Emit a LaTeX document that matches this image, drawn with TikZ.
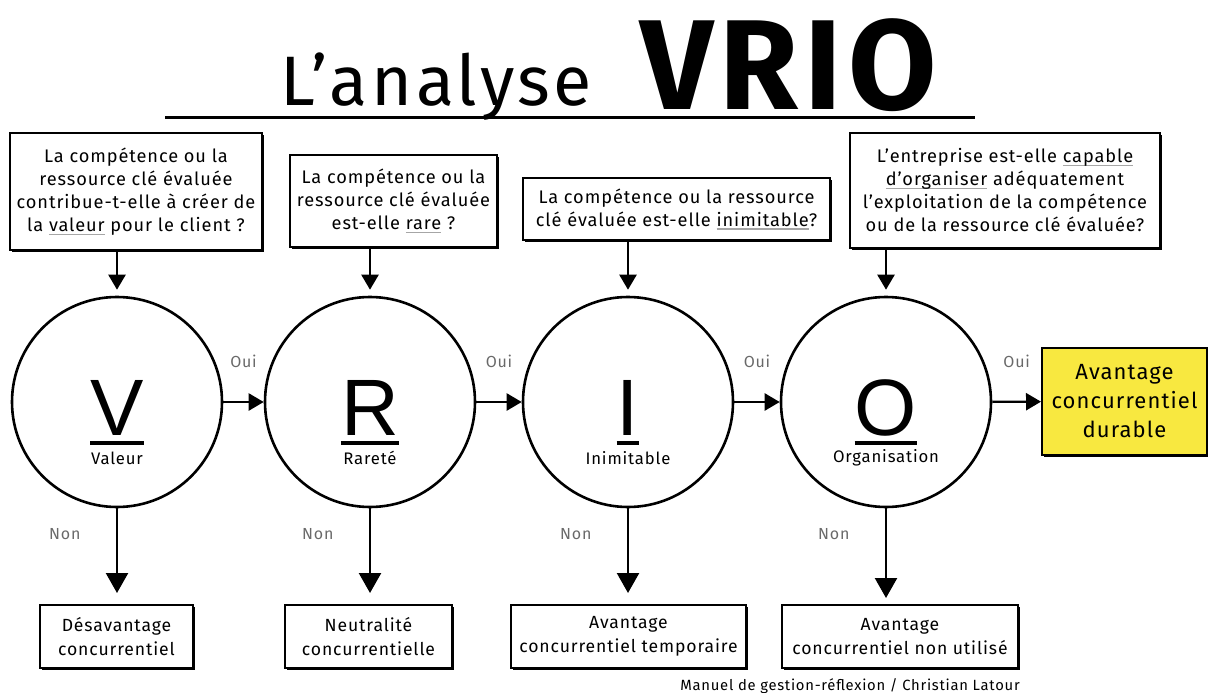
\documentclass[tikz,border=0pt]{standalone}
\usepackage{fontspec}
\setmainfont{Fira Sans}[LetterSpace=5]
\newfontfamily\lettersfont{Liberation Sans}
\usetikzlibrary{arrows.meta,shadows}

\definecolor{goalyellow}{RGB}{248,232,64}
\definecolor{labelgray}{RGB}{105,105,105}

% gray underline used for the key words of each question
\newcommand\grayul[1]{\setbox0=\hbox{#1}\rlap{\textcolor{black!35}{\rule[-3.5pt]{\wd0}{1.3pt}}}\box0{}}

\begin{document}
\begin{tikzpicture}[x=1pt,y=-1pt,
  box/.style={draw, line width=2pt, fill=white, align=center, inner sep=0pt,
    general shadow={fill=black, shadow xshift=1.6pt, shadow yshift=-1.6pt}},
  question/.style={box, font=\fontsize{18.2}{23}\selectfont},
  outcome/.style={box, font=\fontsize{17.6}{24}\selectfont, minimum height=63pt},
  goal/.style={box, fill=goalyellow, font=\fontsize{22}{29}\selectfont,
    minimum width=165pt, minimum height=107pt},
  stage/.style={draw, circle, line width=2.6pt, minimum size=210pt, inner sep=0pt},
  letter/.style={font=\lettersfont\fontsize{80}{80}\selectfont, inner sep=0pt},
  stagename/.style={font=\fontsize{16.7}{17}\selectfont, inner sep=0pt},
  bar/.style={line width=4pt},
  arr/.style={line width=2.4pt, -{Triangle[width=17pt,length=15pt]}},
  downarr/.style={line width=2.4pt, -{Triangle[width=22pt,length=20pt]}},
  oui/.style={font=\fontsize{16}{16}\selectfont, text=labelgray},
  non/.style={font=\fontsize{16}{16}\selectfont, text=labelgray}
]
\useasboundingbox (0,0) rectangle (1208,693);

% title and its rule
\draw[line width=3pt] (165,117) -- (975,117);
\node[anchor=base west, inner sep=0pt, font=\fontsize{70}{70}\selectfont] (t1) at (280,106) {L’analyse};
\node[anchor=base west, inner sep=0pt, font=\bfseries\fontsize{128}{128}\selectfont] (t2) at (640,110) {VRIO};

% questions
\node[question, minimum width=252pt, minimum height=117pt] (q1) at (136,191.5)
  {La compétence ou la\\ressource clé évaluée\\contribue-t-elle à créer de\\la \grayul{valeur} pour le client ?};
\node[question, minimum width=207pt, minimum height=92pt] (q2) at (393.5,201)
  {La compétence ou la\\ressource clé évaluée\\est-elle \grayul{rare} ?};
\node[question, minimum width=307pt, minimum height=62pt] (q3) at (676.5,209)
  {La compétence ou la ressource\\clé évaluée est-elle \grayul{inimitable}?};
\node[question, minimum width=310pt, minimum height=115pt] (q4) at (1005,190.5)
  {L’entreprise est-elle \grayul{capable}\\\grayul{d’organiser} adéquatement\\l’exploitation de la compétence\\ou de la ressource clé évaluée?};

% the four stages
\node[stage] (c1) at (117,402) {};
\node[stage] (c2) at (370,402) {};
\node[stage] (c3) at (628,402) {};
\node[stage] (c4) at (886,402) {};

\node[letter, anchor=base] (l1) at (117,435) {V};
\node[letter, anchor=base] (l2) at (370,435) {R};
\node[letter, anchor=base] (l3) at (628,435) {I};
\node[letter, anchor=base] (l4) at (886,435) {O};
\foreach \l in {l1,l2,l3,l4}
  \draw[bar] ([yshift=-8pt]\l.base west) -- ([yshift=-8pt]\l.base east);

\node[stagename] (n1) at (117,458) {Valeur};
\node[stagename] (n2) at (370,458) {Rareté};
\node[stagename] (n3) at (628,458) {Inimitable};
\node[stagename] (n4) at (886,458) {Organisation};

% final result
\node[goal] (g) at (1124.5,401.5) {Avantage\\concurrentiel\\durable};

% outcomes
\node[outcome, minimum width=153pt] (b1) at (116.5,636.5) {Désavantage\\concurrentiel};
\node[outcome, minimum width=167pt] (b2) at (368.5,636.5) {Neutralité\\concurrentielle};
\node[outcome, minimum width=235pt] (b3) at (628.5,636.5) {Avantage\\concurrentiel temporaire};
\node[outcome, minimum width=236pt] (b4) at (900,636.5) {Avantage\\concurrentiel non utilisé};

% questions feed the stages
\draw[arr, shorten >=6pt] (c1 |- q1.south) -- (c1.north);
\draw[arr, shorten >=6pt] (c2 |- q2.south) -- (c2.north);
\draw[arr, shorten >=6pt] (c3 |- q3.south) -- (c3.north);
\draw[arr, shorten >=6pt] (c4 |- q4.south) -- (c4.north);

% yes path
\draw[arr] (c1) -- node[oui, above=30pt] {Oui} (c2);
\draw[arr] (c2) -- node[oui, above=30pt] {Oui} (c3);
\draw[arr] (c3) -- node[oui, above=30pt] {Oui} (c4);
\draw[arr] (c4) -- node[oui, above=30pt] {Oui} (g);

% no path
\draw[downarr, shorten >=11pt] (c1.south) -- node[non, pos=0.27, left=32pt] {Non} (c1 |- b1.north);
\draw[downarr, shorten >=11pt] (c2.south) -- node[non, pos=0.27, left=32pt] {Non} (c2 |- b2.north);
\draw[downarr, shorten >=11pt] (c3.south) -- node[non, pos=0.27, left=32pt] {Non} (c3 |- b3.north);
\draw[downarr, shorten >=6pt] (c4.south) -- node[non, pos=0.27, left=32pt] {Non} (c4 |- b4.north);

% credit
\node[anchor=east, inner sep=0pt, font=\fontsize{14.8}{15}\selectfont] (credit) at (1020,686)
  {Manuel de gestion-réflexion / Christian Latour};
\end{tikzpicture}
\end{document}
